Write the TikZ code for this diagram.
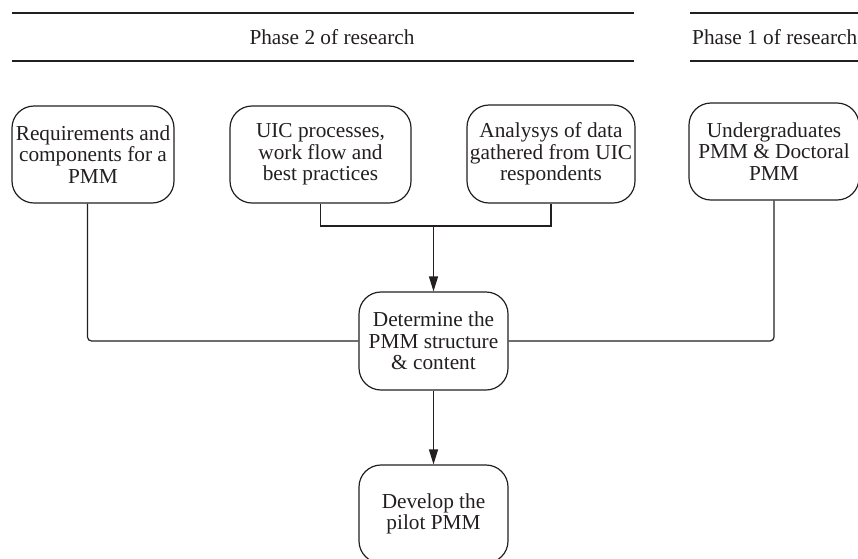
\documentclass[tikz,border=0pt]{standalone}
\usepackage{fontspec}
\setmainfont{Liberation Serif}
\usetikzlibrary{arrows.meta}
\definecolor{ink}{HTML}{231F20}
\tikzset{
  stepbox/.style={draw=ink, line width=1.2pt, rounded corners=22pt, align=center, inner sep=0pt, text=ink},
  conn/.style={draw=ink, line width=1.2pt},
  arr/.style={conn, -{Triangle[length=15pt,width=9pt]}},
  rule/.style={draw=ink, line width=1.3pt},
}
\begin{document}
\begin{tikzpicture}[x=1pt,y=-1pt]
\useasboundingbox (0,0) rectangle (858,558);
\fontsize{21.3}{21.5}\selectfont
% phase header rules
\draw[rule] (12,13) -- (634,13);
\draw[rule] (12,61) -- (634,61);
\draw[rule] (690,13) -- (858,13);
\draw[rule] (690,61) -- (858,61);
\node[text=ink] (p2) at (332,37) {Phase 2 of research};
\node[text=ink, anchor=west, inner sep=0pt] (p1) at (692,37) {Phase 1 of research};
% boxes
\node[stepbox, minimum width=162pt, minimum height=97pt] (A) at (93,154.5) {Requirements and\\components for a\\PMM};
\node[stepbox, minimum width=181pt, minimum height=97pt] (B) at (320.5,154.5) {UIC processes,\\work flow and\\best practices};
\node[stepbox, minimum width=168pt, minimum height=98pt] (C) at (551,154) {Analysys of data\\gathered from UIC\\respondents};
\node[stepbox, minimum width=170pt, minimum height=97pt] (D) at (774,151.5) {Undergraduates\\PMM \& Doctoral\\PMM};
\node[stepbox, minimum width=149pt, minimum height=98pt] (E) at (433.5,341) {Determine the\\PMM structure\\\& content};
\node[stepbox, minimum width=149pt, minimum height=98pt] (F) at (433.5,514) {Develop the\\pilot PMM};
% connectors
\coordinate (J) at (433.5,226);
\draw[conn] (B.south) |- (J) -| (C.south);
\draw[arr] (J) -- (E.north);
\draw[conn, rounded corners=4pt] ([xshift=-5.5pt]A.south) |- (E.west);
\draw[conn, rounded corners=4pt] (D.south) |- (E.east);
\draw[arr] (E.south) -- (F.north);
\end{tikzpicture}
\end{document}
